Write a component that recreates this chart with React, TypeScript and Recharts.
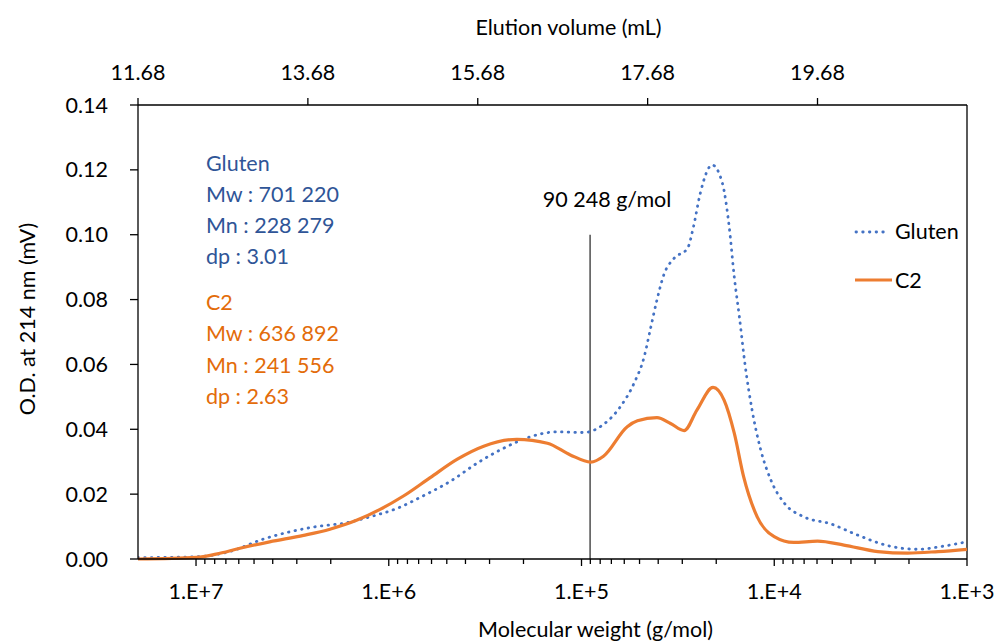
import { LineChart, Line, XAxis, YAxis, ReferenceLine } from 'recharts'

const FONT = 'Lato, "Open Sans", sans-serif'
const FONT_SIZE = 21.5
const BLUE = '#4472C4'
const BLUE_TEXT = '#2F5597'
const ORANGE = '#ED7D31'
const ORANGE_TEXT = '#E36C0A'

// traces: elution volume (mL) -> O.D.
const glutenVolume = [
  11.68, 12.37, 12.76, 13.15, 13.47, 13.78, 14.14, 14.41, 14.73, 15.04, 15.36,
  15.67, 15.98, 16.3, 16.61, 16.93, 17.16, 17.36, 17.52, 17.64, 17.71, 17.79,
  17.87, 17.99, 18.15, 18.22, 18.3, 18.44, 18.56, 18.64, 18.7, 18.76, 18.83,
  18.91, 19.01, 19.13, 19.29, 19.52, 19.84, 20.15, 20.51, 20.86, 21.17, 21.44
]
const glutenOd = [
  0.0004, 0.0007, 0.0023, 0.0061, 0.0084, 0.01, 0.0112, 0.013, 0.0156, 0.0195, 0.024,
  0.0295, 0.0341, 0.0377, 0.0392, 0.039, 0.0415, 0.047, 0.0542, 0.0624, 0.0706, 0.0799,
  0.0876, 0.0927, 0.0958, 0.1025, 0.1128, 0.1215, 0.1159, 0.1025, 0.087, 0.0747, 0.0593,
  0.0459, 0.0338, 0.0244, 0.0172, 0.013, 0.0108, 0.0074, 0.0041, 0.003, 0.004, 0.0053
]

const c2Volume = [
  11.68, 12.37, 12.6, 12.88, 13.23, 13.63, 13.94, 14.26, 14.53, 14.81, 15.12,
  15.44, 15.75, 16.14, 16.5, 16.77, 17.01, 17.16, 17.44, 17.56, 17.79, 17.95,
  18.11, 18.26, 18.45, 18.58, 18.7, 18.81, 18.97, 19.17, 19.4, 19.68, 19.99,
  20.39, 20.74, 21.1, 21.44
]
const c2Od = [
  0, 0.0005, 0.0015, 0.0033, 0.0053, 0.0073, 0.0092, 0.012, 0.0153, 0.0195, 0.0251,
  0.0308, 0.0348, 0.0369, 0.0357, 0.0321, 0.0299, 0.0317, 0.0408, 0.0426, 0.0436, 0.0418,
  0.0396, 0.0459, 0.0529, 0.049, 0.0388, 0.0254, 0.013, 0.0069, 0.0051, 0.0055, 0.0043,
  0.0023, 0.0018, 0.0023, 0.003
]

const volumeDomain = [11.68, 21.44]
const volumeTicks = [11.68, 13.68, 15.68, 17.68, 19.68]
const odTicks = [0, 0.02, 0.04, 0.06, 0.08, 0.1, 0.12, 0.14]
const mwDomain = [1e3, 2e7]
const mwMajorTicks = [1e7, 1e6, 1e5, 1e4, 1e3]
const mwTicks = [1e3, 1e4, 1e5, 1e6]
  .flatMap((d) => [1, 2, 3, 4, 5, 6, 7, 8, 9].map((k) => k * d))
  .concat([1e7])
const cutoffMw = 90248

const glutenStats = ['Gluten', 'Mw : 701 220', 'Mn : 228 279', 'dp : 3.01']
const c2Stats = ['C2', 'Mw : 636 892', 'Mn : 241 556', 'dp : 2.63']

const glutenData = glutenVolume.map((v, i) => ({ vol: v, od: glutenOd[i] }))
const c2Data = c2Volume.map((v, i) => ({ vol: v, od: c2Od[i] }))

const textStyle = { fontFamily: FONT, fontSize: FONT_SIZE }

const MwTick = (props: any) => {
  const { x, y, payload } = props
  const major = mwMajorTicks.includes(payload.value)
  return (
    <g>
      <line x1={x} x2={x} y1={y} y2={y + (major ? 7 : 5)} stroke="#000" strokeWidth={1.3} />
      {major && (
        <text x={x} y={y + 40} textAnchor="middle" fill="#000" style={textStyle}>
          {`1.E+${Math.round(Math.log10(payload.value))}`}
        </text>
      )}
    </g>
  )
}

export default function App() {
  return (
    <div style={{ position: 'absolute', left: 0, top: 0, width: 995, height: 644, background: '#fff' }}>
      <LineChart
        width={995}
        height={644}
        data={glutenData}
        margin={{ top: 0, right: 28, bottom: 0, left: 0 }}
        style={{ fontFamily: FONT }}
      >
        <XAxis
          xAxisId="vol"
          orientation="top"
          type="number"
          dataKey="vol"
          domain={volumeDomain}
          allowDataOverflow
          ticks={volumeTicks}
          interval={0}
          height={105}
          tickSize={7}
          tickMargin={18}
          tickFormatter={(v) => v.toFixed(2)}
          tick={{ fill: '#000', ...textStyle }}
          axisLine={{ stroke: '#000', strokeWidth: 1.3 }}
          tickLine={{ stroke: '#000', strokeWidth: 1.3 }}
          label={{
            content: (p: any) => (
              <text x={p.viewBox.x + p.viewBox.width / 2 + 16} y={35} textAnchor="middle" fill="#000" style={textStyle}>
                Elution volume (mL)
              </text>
            )
          }}
        />
        <XAxis
          xAxisId="mw"
          orientation="bottom"
          type="number"
          dataKey="mw"
          scale="log"
          domain={mwDomain}
          allowDataOverflow
          reversed
          ticks={mwTicks}
          interval={0}
          height={85}
          tickSize={0}
          tickMargin={0}
          tickLine={false}
          tick={<MwTick />}
          axisLine={{ stroke: '#000', strokeWidth: 1.3 }}
          label={{
            content: (p: any) => (
              <text x={p.viewBox.x + p.viewBox.width / 2 + 43} y={p.viewBox.y + 78} textAnchor="middle" fill="#000" style={textStyle}>
                Molecular weight (g/mol)
              </text>
            )
          }}
        />
        <YAxis
          yAxisId="od"
          type="number"
          domain={[0, 0.14]}
          ticks={odTicks}
          interval={0}
          width={138}
          tickSize={8}
          tickMargin={22}
          tickFormatter={(v) => v.toFixed(2)}
          tick={{ fill: '#000', ...textStyle }}
          axisLine={{ stroke: '#000', strokeWidth: 1.3 }}
          tickLine={{ stroke: '#000', strokeWidth: 1.3 }}
          label={{
            content: (p: any) => {
              const cx = 27
              const cy = p.viewBox.y + p.viewBox.height / 2 - 13
              return (
                <text
                  x={cx}
                  y={cy}
                  transform={`rotate(-90 ${cx} ${cy})`}
                  textAnchor="middle"
                  dominantBaseline="central"
                  fill="#000"
                  style={textStyle}
                >
                  O.D. at 214 nm (mV)
                </text>
              )
            }
          }}
        />
        <ReferenceLine
          xAxisId="vol"
          yAxisId="od"
          x={volumeDomain[1]}
          stroke="#000"
          strokeWidth={1.3}
        />
        <ReferenceLine
          xAxisId="mw"
          yAxisId="od"
          segment={[{ x: cutoffMw, y: 0 }, { x: cutoffMw, y: 0.1 }]}
          stroke="#595959"
          strokeWidth={1.6}
          label={{
            content: (p: any) => (
              <text x={p.viewBox.x + 17} y={p.viewBox.y - 28} textAnchor="middle" fill="#000" style={textStyle}>
                90 248 g/mol
              </text>
            )
          }}
        />
        <Line
          xAxisId="vol"
          yAxisId="od"
          dataKey="od"
          type="monotone"
          stroke={BLUE}
          strokeWidth={2.8}
          strokeDasharray="0.5 6.2"
          strokeLinecap="round"
          dot={false}
          activeDot={false}
          isAnimationActive={false}
        />
        <Line
          xAxisId="vol"
          yAxisId="od"
          data={c2Data}
          dataKey="od"
          type="monotone"
          stroke={ORANGE}
          strokeWidth={3.2}
          dot={false}
          activeDot={false}
          isAnimationActive={false}
        />
      </LineChart>

      <svg
        width={995}
        height={644}
        style={{ position: 'absolute', left: 0, top: 0, pointerEvents: 'none' }}
      >
        {glutenStats.map((t, i) => (
          <text key={t} x={206} y={171 + i * 31} fill={BLUE_TEXT} style={textStyle}>{t}</text>
        ))}
        {c2Stats.map((t, i) => (
          <text key={t} x={206} y={310 + i * 31.3} fill={ORANGE_TEXT} style={textStyle}>{t}</text>
        ))}
        <line x1={856} x2={888} y1={232} y2={232} stroke={BLUE} strokeWidth={2.8} strokeDasharray="0.5 6.2" strokeLinecap="round" />
        <text x={895} y={239} fill="#000" style={textStyle}>Gluten</text>
        <line x1={855} x2={892} y1={280} y2={280} stroke={ORANGE} strokeWidth={3.2} />
        <text x={895} y={288} fill="#000" style={textStyle}>C2</text>
      </svg>
    </div>
  )
}
